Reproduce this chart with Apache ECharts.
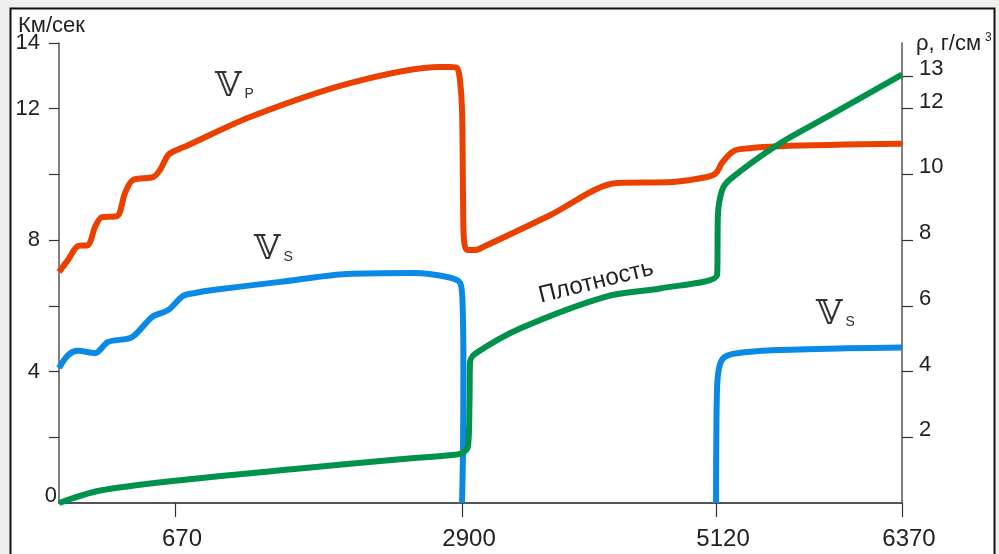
<!DOCTYPE html>
<html>
<head>
<meta charset="utf-8">
<style>
  html, body { margin: 0; padding: 0; background: #efefed; }
  #chart { width: 999px; height: 554px; }
</style>
<script src="https://cdn.jsdelivr.net/npm/echarts@6/dist/echarts.min.js"></script>
</head>
<body>
<div id="chart"></div>
<script>
// Depth boundaries labelled on the horizontal axis, km
const depthTicks = [670, 2900, 5120, 6370];

// P-wave velocity, km/s, against depth, km
const vpDepth = [0, 52, 110, 168, 208, 248, 335, 381, 427, 543, 583, 630, 670, 771, 1253, 2030, 2729, 2807, 2861, 2884, 2900, 2909, 2917, 2943, 3014, 3084, 3669, 4255, 4744, 5041, 5120, 5160, 5228, 5281, 5550, 6370];
const vpValue = [7.03, 7.40, 7.82, 7.85, 8.40, 8.70, 8.73, 9.43, 9.83, 9.92, 10.13, 10.59, 10.72, 10.89, 11.75, 12.78, 13.27, 13.27, 13.24, 12.87, 11.96, 9.22, 8.00, 7.70, 7.70, 7.79, 8.76, 9.74, 9.77, 9.92, 10.04, 10.35, 10.68, 10.77, 10.86, 10.93];

// S-wave velocity in the mantle, km/s
const vsMantleDepth = [0, 52, 110, 208, 283, 422, 537, 630, 732, 825, 965, 1487, 2008, 2521, 2785, 2885, 2905, 2912, 2908, 2900];
const vsMantleValue = [4.11, 4.50, 4.63, 4.56, 4.90, 5.05, 5.66, 5.87, 6.30, 6.39, 6.48, 6.73, 6.97, 7.00, 6.88, 6.70, 6.00, 4.00, 1.50, 0];

// S-wave velocity in the inner core, km/s
const vsCoreDepth = [5120, 5122, 5128, 5145, 5180, 5260, 5500, 6000, 6370];
const vsCoreValue = [0, 2.0, 3.6, 4.2, 4.45, 4.56, 4.65, 4.71, 4.73];

// Density, g/cm3
const rhoDepth = [0, 237, 670, 1641, 2418, 2846, 2909, 2952, 2965, 2970, 3014, 3407, 4167, 4630, 5127, 5130, 5132, 5160, 5214, 5530, 5866, 6370];
const rhoValue = [0, 0.38, 0.68, 1.05, 1.33, 1.47, 1.53, 1.72, 3.00, 4.29, 4.54, 5.31, 6.29, 6.53, 6.93, 7.60, 8.70, 9.51, 9.85, 10.89, 11.75, 13.04];

// Tick labels
const velocityTickLabels = [4, 8, 12, 14];
const velocityTicks = [2, 4, 6, 8, 10, 12, 14];
const densityTicks = [2, 4, 6, 8, 10, 12, 13];

// The depth axis is stretched piecewise between the labelled boundaries
const scaleStops = [0, 670, 2900, 5120, 6370];
const scaleFrac = [0, 0.1376, 0.4781, 0.7794, 1];

function warp(d) {
  for (let i = 1; i < scaleStops.length; i++) {
    if (d <= scaleStops[i]) {
      const t = (d - scaleStops[i - 1]) / (scaleStops[i] - scaleStops[i - 1]);
      return scaleFrac[i - 1] + t * (scaleFrac[i] - scaleFrac[i - 1]);
    }
  }
  return 1;
}
function unwarp(v) {
  for (let i = 1; i < scaleFrac.length; i++) {
    if (v <= scaleFrac[i] + 1e-9) {
      const t = (v - scaleFrac[i - 1]) / (scaleFrac[i] - scaleFrac[i - 1]);
      return scaleStops[i - 1] + t * (scaleStops[i] - scaleStops[i - 1]);
    }
  }
  return scaleStops[scaleStops.length - 1];
}
const pairs = (xs, ys) => xs.map((d, i) => [warp(d), ys[i]]);

const AXIS = '#555';
const TEXT = '#222';
const FONT = 'Liberation Sans, Arial, sans-serif';
const VFONT = 'DejaVu Serif, DejaVu Sans, serif';

const waveLabel = sub => ({
  text: '{v|𝕍}{s|' + sub + '}',
  rich: {
    v: { fontFamily: VFONT, fontSize: 34, fill: '#333' },
    s: { fontFamily: FONT, fontSize: 14, fill: '#333', verticalAlign: 'bottom', padding: [0, 0, 3, 3] }
  }
});

const chart = echarts.init(document.getElementById('chart'), null, { renderer: 'canvas' });

chart.setOption({
  animation: false,
  backgroundColor: '#efefed',
  title: [
    { text: 'Км/сек', left: 13, top: 10,
      textStyle: { fontFamily: FONT, fontSize: 22, fontWeight: 'normal', color: TEXT } },
    { text: '{a|ρ, г/см}{s|3}', left: 911, top: 27,
      textStyle: { fontWeight: 'normal', rich: {
        a: { fontFamily: FONT, fontSize: 22, fontWeight: 'normal', color: TEXT },
        s: { fontFamily: FONT, fontSize: 12, fontWeight: 'normal', color: TEXT, verticalAlign: 'top', padding: [0, 0, 12, 4] }
      } } }
  ],
  grid: { left: 59, right: 97, top: 43, bottom: 51 },
  xAxis: {
    type: 'value', min: 0, max: 1,
    splitLine: { show: false },
    axisLine: { onZero: false, lineStyle: { color: AXIS, width: 2 } },
    axisTick: { customValues: depthTicks.map(warp), length: 14, lineStyle: { color: '#333', width: 1.2 } },
    axisLabel: {
      customValues: depthTicks.map(warp),
      formatter: v => String(Math.round(unwarp(v))),
      fontFamily: FONT, fontSize: 24, color: TEXT, margin: 24, padding: [0, 0, 0, 14]
    }
  },
  yAxis: [
    {
      type: 'value', min: 0, max: 14, position: 'left',
      splitLine: { show: false },
      axisLine: { show: true, onZero: false, lineStyle: { color: AXIS, width: 1.5 } },
      axisTick: { show: true, customValues: velocityTicks, length: 10, lineStyle: { color: '#333', width: 1.2 } },
      axisLabel: { customValues: velocityTickLabels, fontFamily: FONT, fontSize: 22, color: TEXT, margin: 19 }
    },
    {
      type: 'value', min: 0, max: 14, position: 'right',
      splitLine: { show: false },
      axisLine: { show: true, onZero: false, lineStyle: { color: AXIS, width: 1.5 } },
      axisTick: { show: true, customValues: densityTicks, length: 11, lineStyle: { color: '#333', width: 1.2 } },
      axisLabel: { customValues: densityTicks, fontFamily: FONT, fontSize: 22, color: TEXT, margin: 17,
        verticalAlign: 'bottom', lineHeight: 14 }
    },
    {
      // origin label sits right against the axis
      type: 'value', min: 0, max: 14, position: 'left',
      splitLine: { show: false },
      axisLine: { show: false, onZero: false }, axisTick: { show: false },
      axisLabel: { customValues: [0], fontFamily: FONT, fontSize: 22, color: TEXT, margin: 2,
        verticalAlign: 'bottom', lineHeight: 14 }
    }
  ],
  series: [
    {
      name: 'Vp', type: 'line', yAxisIndex: 0,
      data: pairs(vpDepth, vpValue), showSymbol: false, smooth: 0.3,
      lineStyle: { color: '#ea4100', width: 6 }, z: 3
    },
    {
      name: 'Vs', type: 'line', yAxisIndex: 0,
      data: pairs(vsMantleDepth, vsMantleValue), showSymbol: false, smooth: 0.3,
      lineStyle: { color: '#0a8ae4', width: 6 }, z: 2
    },
    {
      name: 'Vs core', type: 'line', yAxisIndex: 0,
      data: pairs(vsCoreDepth, vsCoreValue), showSymbol: false, smooth: 0.3,
      lineStyle: { color: '#0a8ae4', width: 6 }, z: 2
    },
    {
      name: 'Плотность', type: 'line', yAxisIndex: 1,
      data: pairs(rhoDepth, rhoValue), showSymbol: false, smooth: 0.3,
      lineStyle: { color: '#00924a', width: 6 }, z: 4
    }
  ],
  graphic: [
    {
      type: 'rect', z: -100, silent: true,
      shape: { x: 10.5, y: 8.5, width: 984, height: 570 },
      style: { fill: '#ffffff', stroke: '#111', lineWidth: 2 }
    },
    { type: 'text', left: 215, top: 70, z: 10, style: waveLabel('P') },
    { type: 'text', left: 254, top: 233, z: 10, style: waveLabel('S') },
    { type: 'text', left: 816, top: 298, z: 10, style: waveLabel('S') },
    {
      type: 'text', x: 596, y: 282, rotation: 0.245, z: 10,
      style: { text: 'Плотность', fontFamily: FONT, fontSize: 24, fill: TEXT, align: 'center', verticalAlign: 'middle' }
    }
  ]
});
</script>
</body>
</html>
